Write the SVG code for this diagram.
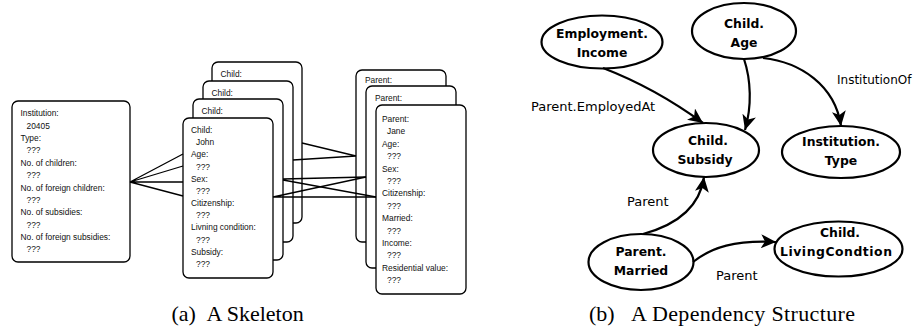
<svg xmlns="http://www.w3.org/2000/svg" width="916" height="335" viewBox="0 0 916 335">
  <style>
    .card { fill: #fff; stroke: #000; stroke-width: 1.3; }
    .ct { font-family: "Liberation Sans", Arial, sans-serif; font-size: 8.4px; fill: #111; }
    .wire { fill: none; stroke: #000; stroke-width: 1.3; }
    .node ellipse { fill: #fff; stroke: #000; stroke-width: 2.2; }
    .nl { font-family: "DejaVu Sans", sans-serif; font-weight: bold; font-size: 12.4px; text-anchor: middle; fill: #000; }
    .edge { fill: none; stroke: #000; stroke-width: 2.2; marker-end: url(#arr); }
    .el { font-family: "DejaVu Sans", sans-serif; font-size: 13px; fill: #000; }
    .cap { font-family: "Liberation Serif", "Times New Roman", serif; font-size: 22px; fill: #000; }
  </style>
  <defs>
    <marker id="arr" viewBox="0 0 16 14" markerWidth="16" markerHeight="14" refX="15" refY="7" orient="auto" markerUnits="userSpaceOnUse">
      <path d="M0,0 L15,7 L0,14 L4,7 Z" fill="#000"/>
    </marker>
  </defs>

  <!-- (a) skeleton: institution record -->
  <g id="institution">
    <rect class="card" x="12" y="101" width="118" height="161" rx="6"/>
    <text class="ct" x="20.5" y="116.3">Institution:</text>
    <text class="ct" x="26.5" y="128.7">20405</text>
    <text class="ct" x="20.5" y="141">Type:</text>
    <text class="ct" x="26.5" y="153.4">???</text>
    <text class="ct" x="20.5" y="165.7">No. of children:</text>
    <text class="ct" x="26.5" y="178.1">???</text>
    <text class="ct" x="20.5" y="190.5">No. of foreign children:</text>
    <text class="ct" x="26.5" y="202.8">???</text>
    <text class="ct" x="20.5" y="215.2">No. of subsidies:</text>
    <text class="ct" x="26.5" y="227.5">???</text>
    <text class="ct" x="20.5" y="239.9">No. of foreign subsidies:</text>
    <text class="ct" x="26.5" y="252.3">???</text>
  </g>

  <!-- child records, back to front -->
  <g id="child-1">
    <rect class="card" x="212" y="62" width="90" height="161" rx="6"/>
    <text class="ct" x="220.5" y="76.5">Child:</text>
  </g>
  <g id="child-2">
    <rect class="card" x="203" y="81" width="90" height="161" rx="6"/>
    <text class="ct" x="211.5" y="95.5">Child:</text>
  </g>
  <g id="child-3">
    <rect class="card" x="193" y="99" width="90" height="161" rx="6"/>
    <text class="ct" x="201.5" y="113.5">Child:</text>
  </g>
  <g id="child-john">
    <rect class="card" x="183" y="118" width="90" height="160" rx="6"/>
    <text class="ct" x="191" y="133">Child:</text>
    <text class="ct" x="196" y="145.2">John</text>
    <text class="ct" x="191" y="157.4">Age:</text>
    <text class="ct" x="196" y="169.5">???</text>
    <text class="ct" x="191" y="181.7">Sex:</text>
    <text class="ct" x="196" y="193.9">???</text>
    <text class="ct" x="191" y="206.1">Citizenship:</text>
    <text class="ct" x="196" y="218.3">???</text>
    <text class="ct" x="191" y="230.4">Livning condition:</text>
    <text class="ct" x="196" y="242.6">???</text>
    <text class="ct" x="191" y="254.8">Subsidy:</text>
    <text class="ct" x="196" y="267">???</text>
  </g>

  <!-- parent records, back to front -->
  <g id="parent-1">
    <rect class="card" x="356" y="70" width="90" height="172" rx="6"/>
    <text class="ct" x="365" y="83">Parent:</text>
  </g>
  <g id="parent-2">
    <rect class="card" x="366" y="86" width="90" height="182" rx="6"/>
    <text class="ct" x="375" y="101">Parent:</text>
  </g>
  <g id="parent-jane">
    <rect class="card" x="376" y="105" width="90" height="189" rx="6"/>
    <text class="ct" x="382" y="122">Parent:</text>
    <text class="ct" x="387" y="134.4">Jane</text>
    <text class="ct" x="382" y="146.8">Age:</text>
    <text class="ct" x="387" y="159.2">???</text>
    <text class="ct" x="382" y="171.6">Sex:</text>
    <text class="ct" x="387" y="184">???</text>
    <text class="ct" x="382" y="196.4">Citizenship:</text>
    <text class="ct" x="387" y="208.8">???</text>
    <text class="ct" x="382" y="221.2">Married:</text>
    <text class="ct" x="387" y="233.6">???</text>
    <text class="ct" x="382" y="246">Income:</text>
    <text class="ct" x="387" y="258.4">???</text>
    <text class="ct" x="382" y="270.8">Residential value:</text>
    <text class="ct" x="387" y="283.2">???</text>
  </g>

  <!-- skeleton links -->
  <g id="skeleton-links">
    <path class="wire" d="M130,182 L183,154 M130,182 L183,166 M130,182 L183,182 M130,182 L183,196"/>
    <path class="wire" d="M302,143 L356,156 M293,160 L356,156"/>
    <path class="wire" d="M283,179 L366,177 M283,180 L376,197"/>
    <path class="wire" d="M273,197 L366,177 M273,197 L376,197"/>
  </g>

  <!-- (b) dependency structure: attribute nodes -->
  <g id="employment-income" class="node">
    <ellipse cx="602" cy="42" rx="60.5" ry="26.5"/>
    <text class="nl" x="602" y="37.5">Employment.</text>
    <text class="nl" x="602" y="57">Income</text>
  </g>
  <g id="child-age" class="node">
    <ellipse cx="744" cy="31" rx="52" ry="28"/>
    <text class="nl" x="744" y="27.5">Child.</text>
    <text class="nl" x="744" y="46.5">Age</text>
  </g>
  <g id="child-subsidy" class="node">
    <ellipse cx="706" cy="150" rx="53" ry="27"/>
    <text class="nl" x="708" y="144.5">Child.</text>
    <text class="nl" x="705" y="163.5">Subsidy</text>
  </g>
  <g id="institution-type" class="node">
    <ellipse cx="841" cy="152" rx="59" ry="26"/>
    <text class="nl" x="841" y="146">Institution.</text>
    <text class="nl" x="841" y="165">Type</text>
  </g>
  <g id="parent-married" class="node">
    <ellipse cx="641" cy="262" rx="52.5" ry="28"/>
    <text class="nl" x="641" y="255.5">Parent.</text>
    <text class="nl" x="641" y="275">Married</text>
  </g>
  <g id="child-livingcondtion" class="node">
    <ellipse cx="838.5" cy="249" rx="64" ry="27.5"/>
    <text class="nl" x="840" y="237">Child.</text>
    <text class="nl" x="836" y="256" textLength="112">LivingCondtion</text>
  </g>

  <!-- dependency edges -->
  <g id="dependencies">
    <path class="edge" d="M603,68 Q655,88 703,123"/>
    <path class="edge" d="M744,59 C751,80 752,106 745,130"/>
    <path class="edge" d="M763,58 C800,62 835,85 841,126"/>
    <path class="edge" d="M643,234 C680,224 700,205 704,177"/>
    <path class="edge" d="M693,262 C712,247 735,240 776,242"/>
    <text class="el" x="531" y="111">Parent.EmployedAt</text>
    <text class="el" x="837" y="84" style="font-size:12px">InstitutionOf</text>
    <text class="el" x="627" y="206">Parent</text>
    <text class="el" x="716" y="280">Parent</text>
  </g>

  <!-- captions -->
  <text class="cap" x="171.5" y="321">(a)</text>
  <text class="cap" x="206.5" y="321">A Skeleton</text>
  <text class="cap" x="589" y="321">(b)</text>
  <text class="cap" x="631" y="321" textLength="224">A Dependency Structure</text>
</svg>
